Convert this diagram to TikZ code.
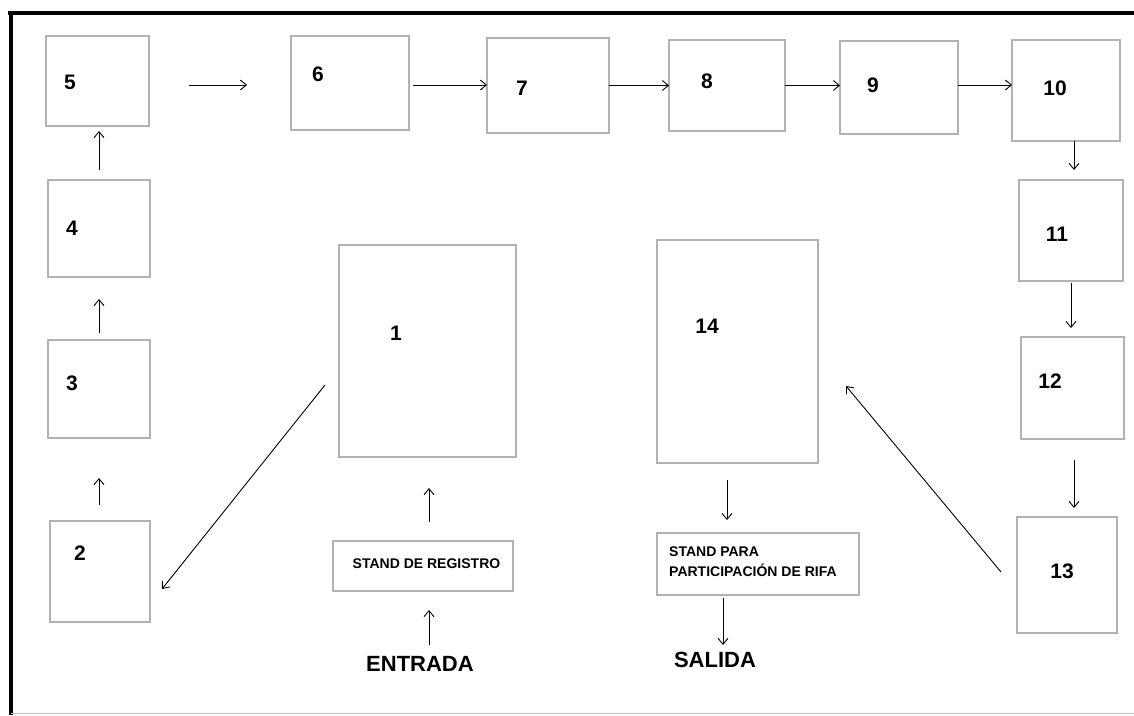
\documentclass[tikz,border=0pt]{standalone}
\usepackage{fontspec}
\setmainfont{Liberation Sans}
\usetikzlibrary{arrows.meta,calc}
\begin{document}
\begin{tikzpicture}[x=1pt,y=-1pt,
  box/.style={draw=gray!60,line width=1.3pt,fill=white,inner sep=0pt,outer sep=0pt},
  num/.style={inner sep=0pt,font=\fontsize{21}{25}\selectfont\bfseries},
  big/.style={inner sep=0pt,font=\fontsize{22}{26}\selectfont\bfseries},
  small/.style={inner sep=0pt,font=\fontsize{14}{20}\selectfont\bfseries},
  arr/.style={draw=black,line width=0.9pt,-{Straight Barb[length=6pt,width=10pt]}}]
\useasboundingbox (0,0) rectangle (1134,715);
% frame
\draw[line width=4pt] (8,13) -- (1134,13);
\draw[line width=4.5pt] (11,11) -- (11,715);
\draw[gray!50,line width=1pt] (11,713.5) -- (1134,713.5);
% boxes
\node[box,minimum width=103,minimum height=90]  (b5)  at (97.5,81) {};
\node[box,minimum width=118,minimum height=94]  (b6)  at (350,83) {};
\node[box,minimum width=122,minimum height=95]  (b7)  at (548,85.5) {};
\node[box,minimum width=116,minimum height=91]  (b8)  at (727,85.5) {};
\node[box,minimum width=118,minimum height=93]  (b9)  at (899,87.5) {};
\node[box,minimum width=108,minimum height=101] (b10) at (1066,90.5) {};
\node[box,minimum width=104,minimum height=101] (b11) at (1071,230.5) {};
\node[box,minimum width=103,minimum height=102] (b12) at (1072.5,388) {};
\node[box,minimum width=100,minimum height=116] (b13) at (1067,575) {};
\node[box,minimum width=102,minimum height=97]  (b4)  at (99,228.5) {};
\node[box,minimum width=102,minimum height=98]  (b3)  at (99,389) {};
\node[box,minimum width=100,minimum height=101] (b2)  at (100,571.5) {};
\node[box,minimum width=177,minimum height=212] (b1)  at (427.5,351) {};
\node[box,minimum width=161,minimum height=223] (b14) at (737.5,351.5) {};
\node[box,minimum width=180,minimum height=50]  (reg) at (423,566) {};
\node[box,minimum width=202,minimum height=62]  (rifa) at (758,564) {};
% labels
\node[num] (t5)  at (70,82) {5};
\node[num] (t6)  at (318,74) {6};
\node[num] (t7)  at (522,88) {7};
\node[num] (t8)  at (707,81) {8};
\node[num] (t9)  at (873,85) {9};
\node[num] (t10) at (1055,88) {10};
\node[num] (t11) at (1057,234) {11};
\node[num] (t12) at (1050,381) {12};
\node[num] (t13) at (1062,571) {13};
\node[num] (t4)  at (72,228) {4};
\node[num] (t3)  at (72,383) {3};
\node[num] (t2)  at (80,553) {2};
\node[num] (t1)  at (396,333) {1};
\node[num] (t14) at (707,326) {14};
\node[small] (treg) at (426.5,564) {STAND DE REGISTRO};
\node[small,anchor=west,align=left] (trifa) at (669,562) {STAND PARA\\PARTICIPACIÓN DE RIFA};
\node[big] (entrada) at (420,664) {ENTRADA};
\node[big] (salida) at (715,660) {SALIDA};
% free connector ends
\coordinate (a56s) at (189,85);
\coordinate (a56e) at (247,85);
\coordinate (a67s) at (413,85);
\coordinate (a910) at (958,85);
\coordinate (a45s) at (99,170);
\coordinate (a45e) at (99,131);
\coordinate (a34s) at (99,333);
\coordinate (a34e) at (99,299);
\coordinate (a23s) at (99,505);
\coordinate (a23e) at (99,478);
\coordinate (a1011e) at (1074,170);
\coordinate (a1112s) at (1071,283);
\coordinate (a1112e) at (1071,328);
\coordinate (a1213s) at (1074,460);
\coordinate (a1213e) at (1074,508);
\coordinate (a1314s) at (1001,572);
\coordinate (a1314e) at (846,386);
\coordinate (a12s) at (325,385);
\coordinate (a12e) at (162,589);
\coordinate (ar1s) at (429,522);
\coordinate (ar1e) at (429,488);
\coordinate (aers) at (429,645);
\coordinate (aere) at (429,610);
\coordinate (a14s) at (727,480);
\coordinate (a14e) at (727,520);
\coordinate (arss) at (723,598);
\coordinate (arse) at (723,645);
% connectors
\draw[arr] (a56s) -- (a56e);
\draw[arr] (a67s) -- (a67s -| b7.west);
\draw[arr] (b7.east) -- (b8.west);
\draw[arr] (b8.east) -- (b8.east -| b9.west);
\draw[arr] (a910) -- (a910 -| b10.west);
\draw[arr] (a1011e |- b10.south) -- (a1011e);
\draw[arr] (a1112s) -- (a1112e);
\draw[arr] (a1213s) -- (a1213e);
\draw[arr] (a1314s) -- (a1314e);
\draw[arr] (a12s) -- (a12e);
\draw[arr] (a45s) -- (a45e);
\draw[arr] (a34s) -- (a34e);
\draw[arr] (a23s) -- (a23e);
\draw[arr] (ar1s) -- (ar1e);
\draw[arr] (aers) -- (aere);
\draw[arr] (a14s) -- (a14e);
\draw[arr] (arss) -- (arse);
\end{tikzpicture}
\end{document}
